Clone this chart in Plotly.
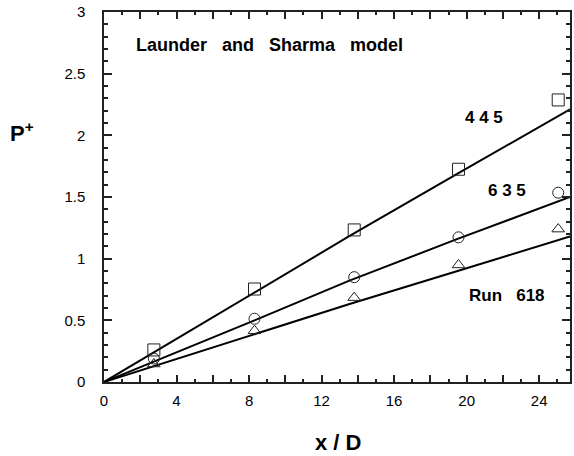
import plotly.graph_objects as go

# Measured wall pressure P+ against x/D for three runs
x_meas = [2.75, 8.3, 13.8, 19.55, 25.05]
p_445 = [0.26, 0.754, 1.233, 1.725, 2.287]
p_635 = [0.19, 0.513, 0.85, 1.173, 1.535]
p_618 = [0.146, 0.416, 0.684, 0.949, 1.24]

# Launder and Sharma model predictions
x_model = [0.0, 8.3, 13.5, 19.5, 25.7]
m_445 = [0.0, 0.725, 1.18, 1.69, 2.21]
m_635 = [0.0, 0.50, 0.82, 1.16, 1.50]
m_618 = [0.0, 0.39, 0.63, 0.90, 1.18]

x_range = [0, 25.7]
y_range = [0, 3]
x_label_step = 4     # labelled x ticks
x_mid_ticks = [2, 6, 10, 14, 18, 22]   # longer unlabelled x ticks
x_minor_step = 1
y_label_step = 0.5
y_minor_step = 0.1

W, H = 574, 456
L, R, T, B = 104, 2, 12, 74
pw, ph = W - L - R, H - T - B

def px(xp):
    return (xp - L) / pw

def py(yp):
    return (H - B - yp) / ph

fig = go.Figure()

for ym in (m_445, m_635, m_618):
    fig.add_trace(go.Scatter(x=x_model, y=ym, mode="lines",
                             line=dict(color="black", width=2),
                             showlegend=False, hoverinfo="skip"))

for yv, sym, size in ((p_445, "square-open", 12),
                      (p_635, "circle-open", 11),
                      (p_618, "triangle-up-open", 11)):
    fig.add_trace(go.Scatter(x=x_meas, y=yv, mode="markers",
                             marker=dict(symbol=sym, size=size, color="#222",
                                         line=dict(width=1, color="#222")),
                             showlegend=False))

# empty trace that carries the second x axis (longer mid ticks)
fig.add_trace(go.Scatter(x=[None], y=[None], xaxis="x2", yaxis="y",
                         mode="markers", showlegend=False, hoverinfo="skip"))

bold = dict(family="Liberation Sans, Arial, sans-serif", color="black")
notes = [
    ("<b>Launder   and   Sharma   model</b>", 270, 45, 18),
    ("<b>4 4 5</b>", 486, 117, 17),
    ("<b>6 3 5</b>", 509, 190, 17),
    ("<b>Run   618</b>", 509, 295, 17),
    ("<b>P<sup>+</sup></b>", 22, 132, 22),
    ("<b>x / D</b>", 339, 442, 22),
]
for txt, xp, yp, fs in notes:
    fig.add_annotation(text=txt, xref="paper", yref="paper",
                       x=px(xp), y=py(yp), xanchor="center", yanchor="middle",
                       showarrow=False, font=dict(size=fs, **bold))

tick_font = dict(family="Liberation Sans, Arial, sans-serif", size=15,
                 color="black")
axis_common = dict(showgrid=False, zeroline=False, showline=True,
                   linecolor="#222", linewidth=1.5, mirror="ticks",
                   ticks="inside", tickcolor="#222", tickwidth=1.5)

fig.update_layout(
    width=W, height=H,
    margin=dict(l=L, r=R, t=T, b=B),
    paper_bgcolor="white", plot_bgcolor="white",
    showlegend=False,
    xaxis=dict(range=x_range, tickmode="linear", tick0=0,
               dtick=x_label_step, ticklen=7, ticklabelstandoff=4,
               tickfont=tick_font,
               minor=dict(dtick=x_minor_step, ticks="inside", ticklen=3,
                          tickcolor="#222", tickwidth=1.5),
               **axis_common),
    xaxis2=dict(range=x_range, overlaying="x", side="bottom",
                tickmode="array", tickvals=x_mid_ticks,
                showticklabels=False, ticks="inside", ticklen=7,
                tickcolor="#222", tickwidth=1.5, mirror="ticks",
                showline=False, showgrid=False, zeroline=False),
    yaxis=dict(range=y_range, tickmode="linear", tick0=0,
               dtick=y_label_step, ticklen=8, ticklabelstandoff=14,
               tickfont=tick_font,
               minor=dict(dtick=y_minor_step, ticks="inside", ticklen=4,
                          tickcolor="#222", tickwidth=1.5),
               **axis_common),
)

fig.write_html("out.html")
